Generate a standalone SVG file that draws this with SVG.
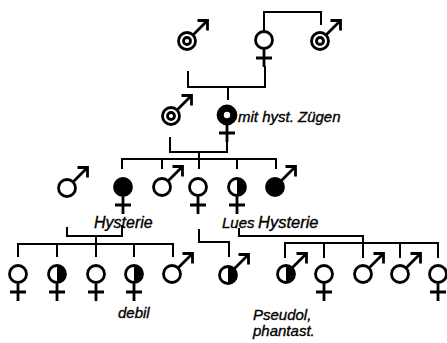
<svg xmlns="http://www.w3.org/2000/svg" width="447" height="343" viewBox="0 0 447 343">
<style>
.o{fill:none;stroke:#000;stroke-width:2.8}
.f{fill:#000;stroke:#000;stroke-width:2.8}
.w{fill:#fff;stroke:none}
.l{fill:none;stroke:#000;stroke-width:2;stroke-linecap:square}
.t{font-family:"Liberation Sans",Arial,sans-serif;font-style:italic;fill:#000;stroke:#000;stroke-width:0.35}
</style>
<defs>
<g id="fem"><path class="o" d="M0,9.5 V27 M-8,18 H8"/></g>
<g id="arr"><path class="o" d="M6.5,-6.5 L20.5,-20.5 M10.5,-20.5 H20.5 V-10.5"/></g>
<path id="half" d="M0,-8.5 A8.5,8.5 0 0 1 0,8.5 Z" fill="#000"/>
</defs>
<rect width="447" height="343" fill="#fff"/>
<g id="connectors">
<path class="l" d="M264,30 V12 H321 V24"/>
<path class="l" d="M188,72 V87 H265 V67 M228,87 V99"/>
<path class="l" d="M170,138 V152 H227 V142 M199,152 V168"/>
<path class="l" d="M122,159 H276 M122,159 V168 M162,159 V168 M237,159 V168 M276,159 V168"/>
<path class="l" d="M67,228 V236 H122 V226 M96,236 V244"/>
<path class="l" d="M18,244 H173 M18,244 V256 M57,244 V256 M96,244 V256 M134,244 V256 M173,244 V256"/>
<path class="l" d="M199,230 V242 H229 V256"/>
<path class="l" d="M239,229 V236 H363 V257"/>
<path class="l" d="M285,243 H438 M285,243 V257 M324,243 V257 M400,243 V257 M438,243 V257"/>
</g>
<g id="g1-m1" transform="translate(187,41)"><circle class="o" r="8.5"/><circle class="o" r="3.5" stroke-width="2.2"/><use href="#arr"/></g>
<g id="g1-f" transform="translate(264,40)"><circle class="o" r="8.5"/><use href="#fem"/></g>
<g id="g1-m2" transform="translate(320,41)"><circle class="o" r="8.5"/><circle class="o" r="3.5" stroke-width="2.2"/><use href="#arr"/></g>
<g id="g2-m" transform="translate(171,116)"><circle class="o" r="8.5"/><circle class="o" r="3.5" stroke-width="2.2"/><use href="#arr"/></g>
<g id="g2-f" transform="translate(227,115)"><circle class="f" r="9"/><circle class="w" r="3.2"/><path class="o" d="M0,10 V27 M-8,18 H8"/></g>
<text class="t" x="238" y="122" style="font-size:15px">mit hyst. Zügen</text>
<g id="g3-m1" transform="translate(67,188)"><circle class="o" r="8.5"/><use href="#arr"/></g>
<g id="g3-f1" transform="translate(123,187)"><circle class="f" r="8.5"/><use href="#fem"/></g>
<g id="g3-m2" transform="translate(162,187)"><circle class="o" r="8.5"/><use href="#arr"/></g>
<g id="g3-f2" transform="translate(198,187)"><circle class="o" r="8.5"/><use href="#fem"/></g>
<g id="g3-f3" transform="translate(237,187)"><use href="#half"/><circle class="o" r="8.5"/><use href="#fem"/></g>
<g id="g3-m3" transform="translate(275,187)"><circle class="f" r="8.5"/><use href="#arr"/></g>
<text class="t" x="94" y="228" style="font-size:16px">Hysterie</text>
<text class="t" x="222" y="228" style="font-size:15px">Lues</text>
<text class="t" x="258" y="228" style="font-size:16.5px">Hysterie</text>
<g id="g4-f1" transform="translate(18,274)"><circle class="o" r="8.5"/><use href="#fem"/></g>
<g id="g4-f2" transform="translate(57,274)"><use href="#half"/><circle class="o" r="8.5"/><use href="#fem"/></g>
<g id="g4-f3" transform="translate(96,274)"><circle class="o" r="8.5"/><use href="#fem"/></g>
<g id="g4-f4" transform="translate(134,274)"><use href="#half"/><circle class="o" r="8.5"/><use href="#fem"/></g>
<g id="g4-m1" transform="translate(172,274)"><circle class="o" r="8.5"/><use href="#arr"/></g>
<text class="t" x="118" y="318" style="font-size:15px">debil</text>
<g id="g4-m2" transform="translate(228,275)"><use href="#half"/><circle class="o" r="8.5"/><use href="#arr"/></g>
<g id="g4-m3" transform="translate(286,274)"><use href="#half"/><circle class="o" r="8.5"/><use href="#arr"/></g>
<g id="g4-f5" transform="translate(324,274)"><circle class="o" r="8.5"/><use href="#fem"/></g>
<g id="g4-m4" transform="translate(363,274)"><circle class="o" r="8.5"/><use href="#arr"/></g>
<g id="g4-m5" transform="translate(400,274)"><circle class="o" r="8.5"/><use href="#arr"/></g>
<g id="g4-f6" transform="translate(438,274)"><circle class="o" r="8.5"/><use href="#fem"/></g>
<text class="t" x="253" y="320" style="font-size:15px">Pseudol,</text>
<text class="t" x="253" y="336" style="font-size:15px">phantast.</text>
</svg>
